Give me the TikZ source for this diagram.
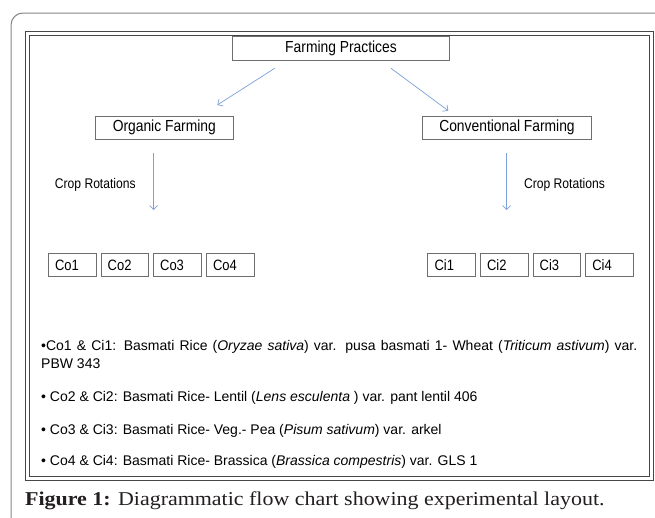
\documentclass[tikz,border=0pt]{standalone}
\usepackage{fontspec}
\newfontfamily\diag[FakeStretch=0.865]{Liberation Sans}
\newfontfamily\legendfont{Liberation Sans}
\newfontfamily\capfont[FakeStretch=1.12]{Liberation Serif}
\usetikzlibrary{arrows.meta}
\definecolor{framegray}{RGB}{135,135,135}
\definecolor{innergray}{RGB}{70,70,70}
\definecolor{boxgray}{RGB}{110,110,110}
\definecolor{arrowblue}{RGB}{125,160,215}
\definecolor{captext}{RGB}{35,31,32}
\begin{document}
\begin{tikzpicture}[x=1pt,y=-1pt,
 box/.style={draw=boxgray, line width=0.8pt, inner sep=0pt, font=\diag\fontsize{16}{19}\selectfont},
 cbox/.style={draw=boxgray, line width=0.8pt, inner xsep=6.7pt, inner ysep=0pt, text width=34.3pt, align=left, minimum height=23.4pt, font=\diag\fontsize{15}{18}\selectfont},
 flow/.style={draw=arrowblue, line width=0.7pt, -{Straight Barb[length=4pt,width=8pt]}},
 lbl/.style={inner sep=0pt, font=\diag\fontsize{14}{17}\selectfont},
 bulletline/.style={inner sep=0pt, anchor=base west, font=\legendfont\fontsize{14}{17}\selectfont}]
\useasboundingbox (0,0) rectangle (655,517);
\fill[white] (0,0) rectangle (655,517);
% outer rounded frame
\draw[framegray, line width=1pt, rounded corners=12pt] (11,518) -- (11,13) -- (656,13);
% inner double frame
\draw[innergray, line width=0.8pt] (25.5,31) rectangle (653,480);
\draw[innergray, line width=0.8pt] (29.5,35) rectangle (649,476);
% main boxes
\node[box, minimum width=216.6pt, minimum height=23.8pt] (fp) at (341,48.6) {Farming Practices};
\node[box, minimum width=137.3pt, minimum height=23.3pt] (org) at (164.3,127.7) {Organic Farming};
\node[box, minimum width=169.4pt, minimum height=23.3pt] (conv) at (507,127.7) {Conventional Farming};
% labels
\node[lbl] (crl) at (95.3,185) {Crop Rotations};
\node[lbl] (crr) at (564.5,185) {Crop Rotations};
% crop boxes
\node[cbox] (co1) at (72.15,265) {Co1};
\node[cbox] (co2) at (124.85,265) {Co2};
\node[cbox] (co3) at (177.3,265) {Co3};
\node[cbox] (co4) at (230.15,265) {Co4};
\node[cbox] (ci1) at (451.7,265) {Ci1};
\node[cbox] (ci2) at (504.15,265) {Ci2};
\node[cbox] (ci3) at (556.85,265) {Ci3};
\node[cbox] (ci4) at (609.5,265) {Ci4};
% arrows
\coordinate (a1s) at (274.7,68.3);
\coordinate (a1e) at (217.3,105);
\coordinate (a2s) at (391,68.3);
\coordinate (a2e) at (448.3,110.7);
\coordinate (a3s) at (153.7,153.3);
\coordinate (a3e) at (153.7,210);
\coordinate (a4s) at (506.7,153.3);
\coordinate (a4e) at (506.7,210);
\draw[flow] (a1s) -- (a1e);
\draw[flow] (a2s) -- (a2e);
\draw[flow] (a3s) -- (a3e);
\draw[flow] (a4s) -- (a4e);
% legend lines
\node[bulletline] (b1) at (41,350) {\makebox[596pt][s]{•Co1 \& Ci1: Basmati Rice (\textit{Oryzae sativa}) var. pusa basmati 1- Wheat (\textit{Triticum astivum}) var.}};
\node[bulletline] (b1b) at (41,368) {PBW 343};
\node[bulletline] (b2) at (41,401) {• Co2 \& Ci2: Basmati Rice- Lentil (\textit{Lens esculenta} ) var. pant lentil 406};
\node[bulletline] (b3) at (41,434) {• Co3 \& Ci3: Basmati Rice- Veg.- Pea (\textit{Pisum sativum}) var. arkel};
\node[bulletline] (b4) at (41,465) {• Co4 \& Ci4: Basmati Rice- Brassica (\textit{Brassica compestris}) var. GLS 1};
% caption
\node[anchor=base west, inner sep=0pt, text=captext, font=\capfont\fontsize{19.6}{24}\selectfont] (cap) at (25,505) {\textbf{Figure 1:} Diagrammatic flow chart showing experimental layout.};
\end{tikzpicture}
\end{document}
